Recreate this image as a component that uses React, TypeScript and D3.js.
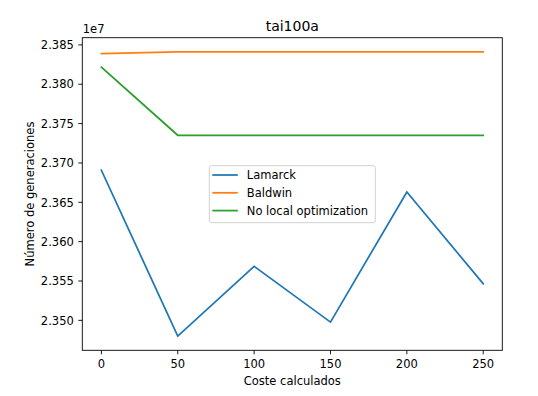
import React from "react";
import * as d3 from "d3";

const xValues = [0, 50, 100, 150, 200, 250];
const lamarck = [23690700, 23480000, 23568600, 23497800, 23663100, 23546500];
const baldwin = [23838900, 23841100, 23841100, 23841100, 23841100, 23841100];
const noLocal = [23821600, 23735200, 23735200, 23735200, 23735200, 23735200];
const seriesNames = ["Lamarck", "Baldwin", "No local optimization"];
const xTicks = [0, 50, 100, 150, 200, 250];
const yTicks = [23500000, 23550000, 23600000, 23650000, 23700000, 23750000, 23800000, 23850000];
const colors = ["#1f77b4", "#ff7f0e", "#2ca02c"];

const W = 538, H = 396;
const L = 82.3, R = 502.3, T = 37.7, B = 350.3;
const FONT = "DejaVu Sans, sans-serif";

export default function App() {
  const all = [...lamarck, ...baldwin, ...noLocal];
  const ymin = d3.min(all)!, ymax = d3.max(all)!;
  const ym = (ymax - ymin) * 0.05;
  const xmin = d3.min(xValues)!, xmax = d3.max(xValues)!;
  const xm = (xmax - xmin) * 0.05;
  const x = d3.scaleLinear().domain([xmin - xm, xmax + xm]).range([L, R]);
  const y = d3.scaleLinear().domain([ymin - ym, ymax + ym]).range([B, T]);
  const line = d3.line<number>().x((_, i) => x(xValues[i])).y((d) => y(d));
  const data = [lamarck, baldwin, noLocal];
  const fs = 11.5;
  const legX = 209.3, legY = 165.7, legW = 166, legH = 57;
  const rowH = 17.8;
  return (
    <svg width={W} height={H} style={{ position: "absolute", left: 0, top: 0 }} fontFamily={FONT}>
      <rect x={0} y={0} width={W} height={H} fill="#fff" />
      {data.map((d, i) => (
        <path key={i} d={line(d) || ""} fill="none" stroke={colors[i]} strokeWidth={1.75} strokeLinecap="square" />
      ))}
      <rect x={L} y={T} width={R - L} height={B - T} fill="none" stroke="#000" strokeWidth={0.9} />
      {xTicks.map((t) => (
        <g key={t}>
          <line x1={x(t)} x2={x(t)} y1={B} y2={B + 4} stroke="#000" strokeWidth={0.9} />
          <text x={x(t)} y={B + 17.5} textAnchor="middle" fontSize={fs} fill="#000">{t}</text>
        </g>
      ))}
      {yTicks.map((t) => (
        <g key={t}>
          <line x1={L - 4} x2={L} y1={y(t)} y2={y(t)} stroke="#000" strokeWidth={0.9} />
          <text x={L - 8.5} y={y(t) + 4.2} textAnchor="end" fontSize={fs} fill="#000">{(t / 1e7).toFixed(3)}</text>
        </g>
      ))}
      <text x={L + 0.5} y={T - 4.5} fontSize={fs} fill="#000">1e7</text>
      <text x={(L + R) / 2} y={T - 6.5} textAnchor="middle" fontSize={14} fill="#000">tai100a</text>
      <text x={(L + R) / 2} y={385} textAnchor="middle" fontSize={fs} fill="#000">Coste calculados</text>
      <text transform={`translate(34,${(T + B) / 2}) rotate(-90)`} textAnchor="middle" fontSize={fs} fill="#000">Número de generaciones</text>
      <rect x={legX} y={legY} width={legW} height={legH} fill="#fff" fillOpacity={0.8} stroke="#ccc" strokeWidth={0.9} rx={2} />
      {seriesNames.map((n, i) => (
        <g key={n}>
          <line x1={legX + 3} x2={legX + 28.5} y1={legY + 9.3 + i * rowH} y2={legY + 9.3 + i * rowH} stroke={colors[i]} strokeWidth={1.75} />
          <text x={legX + 37.5} y={legY + 13.5 + i * rowH} fontSize={fs} fill="#000">{n}</text>
        </g>
      ))}
    </svg>
  );
}
